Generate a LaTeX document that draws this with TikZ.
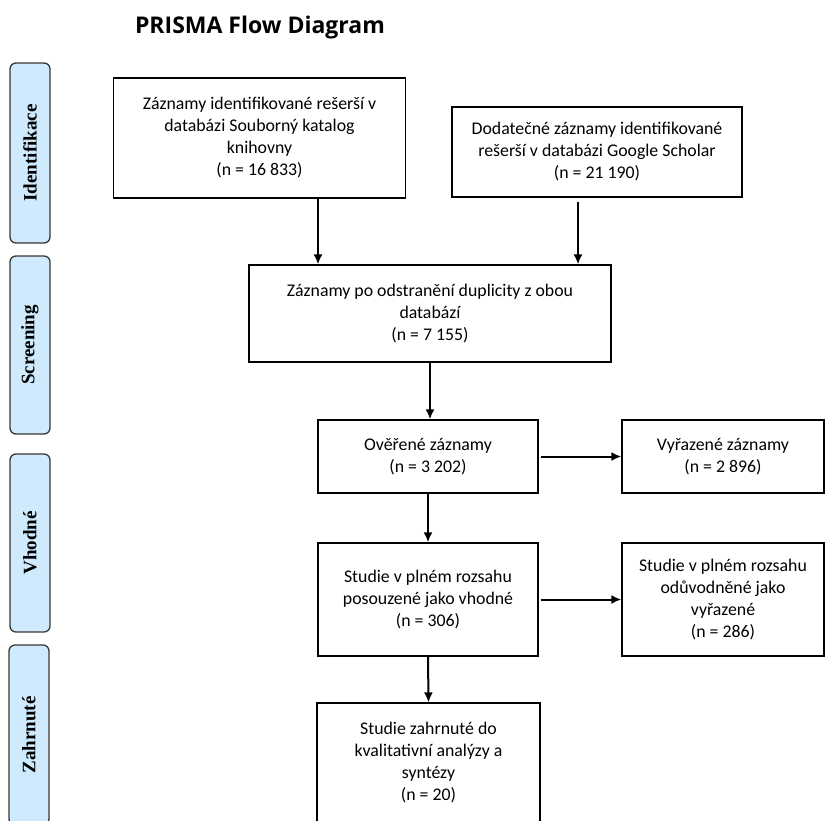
\documentclass[tikz,border=0pt]{standalone}
\usepackage{fontspec}
\setmainfont{Carlito}
\newfontfamily\titlefont{Open Sans}
\newfontfamily\phasefont{Liberation Serif}
\usetikzlibrary{arrows.meta}
\definecolor{phaseblue}{RGB}{206,234,252}
\definecolor{phaseline}{RGB}{55,55,55}
\tikzset{
  box/.style={draw, line width=1.2pt, align=center, inner sep=2pt,
    font=\fontsize{17.8}{22}\selectfont},
  phase/.style={draw=phaseline, fill=phaseblue, line width=1.3pt,
    rounded corners=6pt, rotate=90, minimum height=40pt,
    font=\phasefont\bfseries\fontsize{19}{22}\selectfont},
  arr/.style={line width=2pt, -{Latex[length=10pt,width=9pt]}}
}
\begin{document}
\begin{tikzpicture}[x=1pt,y=-1pt]
\useasboundingbox (0,0) rectangle (834,820);
\clip (0,0) rectangle (834,820);
\node[font=\titlefont\bfseries\fontsize{23}{26}\selectfont] (title) at (260,28) {PRISMA Flow Diagram};

\node[phase, minimum width=180pt] (identifikace) at (30,153) {Identifikace};
\node[phase, minimum width=178pt] (screening) at (30,345) {Screening};
\node[phase, minimum width=178pt] (vhodne) at (30,543) {Vhodné};
\node[phase, minimum width=180pt] (zahrnute) at (29,735) {Zahrnuté};

\node[box, minimum width=292pt, minimum height=120pt] (katalog) at (259.5,138)
  {Záznamy identifikované rešerší v\\databázi Souborný katalog\\knihovny\\(n = 16 833)};
\node[box, minimum width=290pt, minimum height=90pt] (scholar) at (597,152)
  {Dodatečné záznamy identifikované\\rešerší v databázi Google Scholar\\(n = 21 190)};
\node[box, minimum width=362pt, minimum height=97pt] (duplicity) at (430,313.5)
  {Záznamy po odstranění duplicity z obou\\databází\\(n = 7 155)};
\node[box, minimum width=220pt, minimum height=73pt] (overene) at (428,456.5)
  {Ověřené záznamy\\(n = 3 202)};
\node[box, minimum width=202pt, minimum height=73pt] (vyrazene) at (723,456.5)
  {Vyřazené záznamy\\(n = 2 896)};
\node[box, minimum width=220pt, minimum height=113pt] (plne) at (428,599.5)
  {Studie v plném rozsahu\\posouzené jako vhodné\\(n = 306)};
\node[box, minimum width=202pt, minimum height=113pt] (oduvodnene) at (723,599.5)
  {Studie v plném rozsahu\\odůvodněné jako\\vyřazené\\(n = 286)};
\node[box, minimum width=223pt, minimum height=119pt] (zahrnuto) at (428.5,762.5)
  {Studie zahrnuté do\\kvalitativní analýzy a\\syntézy\\(n = 20)};

\draw[arr] ([xshift=58.5pt]katalog.south) -- ([xshift=58.5pt]katalog.south |- duplicity.north);
\draw[arr, shorten <=4pt] ([xshift=-19pt]scholar.south) -- ([xshift=-19pt]scholar.south |- duplicity.north);
\draw[arr] (duplicity.south) -- (duplicity.south |- overene.north);
\draw[arr, shorten <=2pt] (overene.east) -- (vyrazene.west);
\draw[arr] (overene.south) -- (plne.north);
\draw[arr, shorten <=2pt] (plne.east) -- (oduvodnene.west);
\draw[arr] (plne.south) -- (zahrnuto.north);
\end{tikzpicture}
\end{document}
